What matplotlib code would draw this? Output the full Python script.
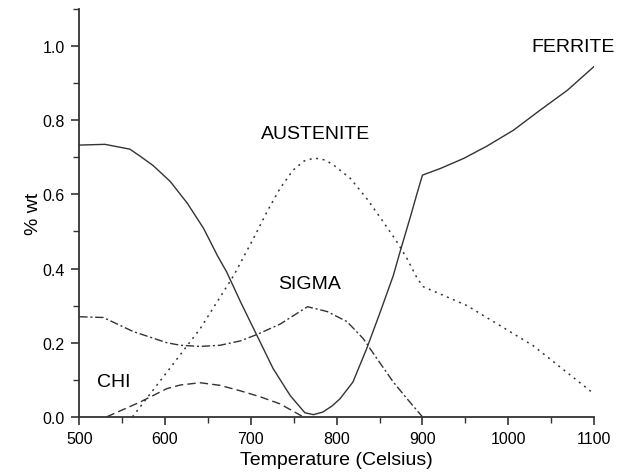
import numpy as np
import matplotlib.pyplot as plt
from matplotlib.ticker import MultipleLocator

plt.rcParams['font.family'] = ['Liberation Sans', 'DejaVu Sans']

# phase fractions vs temperature
ferrite_t = [500, 530, 559, 571, 586, 606, 626, 645, 661, 672, 688, 707, 726, 746, 763, 773, 784, 795,
             804, 819, 835, 851, 866, 874, 886, 894, 900, 921, 948, 975, 1006, 1037, 1069, 1100]
ferrite_v = [0.733, 0.735, 0.722, 0.703, 0.678, 0.635, 0.576, 0.508, 0.435, 0.390, 0.31, 0.22, 0.13, 0.057,
             0.011, 0.006, 0.013, 0.03, 0.049, 0.094, 0.184, 0.284, 0.381, 0.446, 0.54, 0.605, 0.652,
             0.670, 0.697, 0.73, 0.773, 0.827, 0.881, 0.945]

austenite_t = [562, 602, 641, 680, 703, 719, 734, 749, 762, 774, 786, 796, 816, 835, 854, 870, 882, 894, 901,
               909, 952, 1029, 1100]
austenite_v = [0.0, 0.12, 0.238, 0.381, 0.481, 0.554, 0.616, 0.665, 0.69, 0.698, 0.693, 0.68, 0.643, 0.589,
               0.527, 0.473, 0.427, 0.373, 0.351, 0.343, 0.30, 0.192, 0.062]

sigma_t = [500, 528, 563, 602, 618, 641, 664, 688, 707, 734, 766, 789, 812, 831, 847, 866, 882, 900]
sigma_v = [0.27, 0.268, 0.23, 0.2, 0.193, 0.19, 0.193, 0.205, 0.222, 0.25, 0.297, 0.284, 0.257, 0.211,
           0.157, 0.094, 0.049, 0.0]

chi_t = [532, 571, 602, 618, 641, 664, 688, 711, 734, 761]
chi_v = [0.0, 0.04, 0.076, 0.086, 0.092, 0.085, 0.07, 0.054, 0.035, 0.0]

c = "#333333"
fig = plt.figure(figsize=(6.24, 4.77), dpi=100)
ax = fig.add_axes([0.127, 0.124, 0.825, 0.855])

ax.plot(ferrite_t, ferrite_v, color=c, lw=1.0, ls="-")
ax.plot(austenite_t, austenite_v, color=c, lw=1.1, ls=(0, (1.3, 3)))
ax.plot(sigma_t, sigma_v, color=c, lw=1.0, ls=(0, (6, 2, 1.5, 2)))
ax.plot(chi_t, chi_v, color=c, lw=1.0, ls=(0, (6, 3)))

ax.text(1075, 1.0, "FERRITE", fontsize=14, ha="center", va="center")
ax.text(776, 0.765, "AUSTENITE", fontsize=14, ha="center", va="center")
ax.text(769, 0.36, "SIGMA", fontsize=14, ha="center", va="center")
ax.text(540, 0.095, "CHI", fontsize=14, ha="center", va="center")

ax.set_xlim(500, 1100)
ax.set_ylim(0, 1.1)
ax.xaxis.set_major_locator(MultipleLocator(100))
ax.xaxis.set_minor_locator(MultipleLocator(50))
ax.yaxis.set_major_locator(MultipleLocator(0.2))
ax.yaxis.set_minor_locator(MultipleLocator(0.1))
ax.yaxis.set_major_formatter(plt.FormatStrFormatter("%.1f"))
ax.tick_params(which="major", direction="out", length=6, width=1.2, labelsize=11.5, color=c, pad=4.5)
ax.tick_params(which="minor", direction="out", length=4, width=1.0, color=c)
for s in ["top", "right"]:
    ax.spines[s].set_visible(False)
for s in ["left", "bottom"]:
    ax.spines[s].set_linewidth(1.3)
    ax.spines[s].set_color(c)
ax.set_xlabel("Temperature (Celsius)", fontsize=14, labelpad=3)
ax.set_ylabel("% wt", fontsize=14, labelpad=0)

fig.savefig("out.png", dpi=100)
